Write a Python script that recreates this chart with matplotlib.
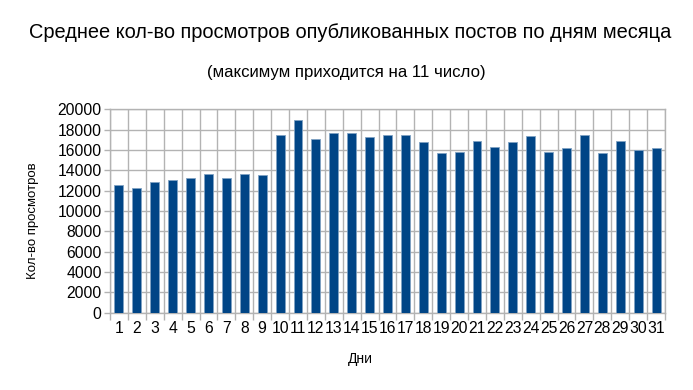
import matplotlib
matplotlib.use("Agg")
import matplotlib.pyplot as plt
import numpy as np

days = [str(d) for d in range(1, 32)]
views = [12600, 12230, 12900, 13000, 13280, 13600, 13280, 13600, 13500,
         17480, 18950, 17110, 17640, 17640, 17310, 17440, 17440, 16750,
         15670, 15800, 16850, 16260, 16750, 17380, 15770, 16200, 17480,
         15670, 16850, 16030, 16200]
yticks = list(range(0, 20001, 2000))

title = "Среднее кол-во просмотров опубликованных постов по дням месяца"
subtitle = "(максимум приходится на 11 число)"
xlabel = "Дни"
ylabel = "Кол-во просмотров"

plt.rcParams['font.family'] = ['Liberation Sans', 'DejaVu Sans']

fig = plt.figure(figsize=(6.93, 3.9), dpi=100)
ax = fig.add_axes([110/693, 1-312.7/390, (665-110)/693, (312.7-109.3)/390])

x = np.arange(len(days))
ax.bar(x, views, width=0.5, color="#004586", edgecolor="#7fa2c3", linewidth=0.6, zorder=3)

ax.set_xlim(-0.5, len(days) - 0.5)
ax.set_ylim(0, 20000)
ax.set_yticks(yticks)
ax.set_yticklabels([str(v) for v in yticks], fontsize=11.3)
ax.set_xticks(x)
ax.set_xticklabels(days, fontsize=11.3)
ax.tick_params(axis='x', length=0, pad=6)
ax.set_xticks(np.arange(-0.5, len(days), 1), minor=True)
ax.tick_params(axis='x', which='minor', length=5, color="#b3b3b3", width=1)
ax.tick_params(axis='y', length=4, color="#b3b3b3", width=1, pad=2)
ax.grid(True, axis='y', color="#b3b3b3", linewidth=1, zorder=0)
ax.grid(True, axis='x', which='minor', color="#b3b3b3", linewidth=1, zorder=0)
for s in ax.spines.values():
    s.set_color("#b3b3b3")
    s.set_linewidth(1)

fig.text(350/693, 1-33/390, title, ha='center', va='center', fontsize=14.4)
fig.text(346/693, 1-72/390, subtitle, ha='center', va='center', fontsize=12.1)
fig.text(360/693, 1-359/390, xlabel, ha='center', va='center', fontsize=10)
fig.text(33/693, 1-221/390, ylabel, ha='center', va='center', rotation=90, fontsize=9.5)

fig.savefig("out.png", dpi=100)
